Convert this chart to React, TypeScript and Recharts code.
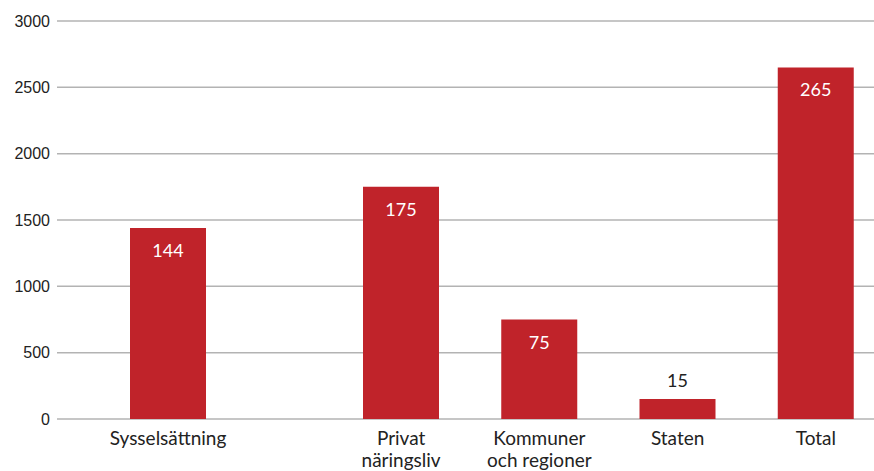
import { BarChart, Bar, XAxis, YAxis, CartesianGrid, LabelList } from 'recharts';

// left group (own slot), right group of four
const leftCategories = ['Sysselsättning'];
const leftValues = [1440];
const leftLabels = ['144'];

const rightCategories = ['Privat\nnäringsliv', 'Kommuner\noch regioner', 'Staten', 'Total'];
const rightValues = [1750, 750, 150, 2650];
const rightLabels = ['175', '75', '15', '265'];

const yTicks = [0, 500, 1000, 1500, 2000, 2500, 3000];

const RED = '#c0232a';
const LABEL_FONT = 'Lato, "Noto Sans", sans-serif';

const leftData = leftCategories.map((name, i) => ({ name, value: leftValues[i], label: leftLabels[i] }));
const rightData = rightCategories.map((name, i) => ({ name, value: rightValues[i], label: rightLabels[i] }));

const CategoryTick = (props: any) => {
  const { x, y, payload } = props;
  const lines = String(payload.value).split('\n');
  return (
    <text x={x} y={y} textAnchor="middle" fill="#222" fontSize={19} fontFamily={LABEL_FONT}>
      {lines.map((line, i) => (
        <tspan key={i} x={x} dy={i === 0 ? 26 : 22}>
          {line}
        </tspan>
      ))}
    </text>
  );
};

const ValueLabel = (props: any) => {
  const { x, y, width, height, value } = props;
  const cx = x + width / 2;
  const small = height < 30;
  return (
    <text
      x={cx}
      y={small ? y - 12 : y + 29}
      textAnchor="middle"
      fill={small ? '#222' : '#fff'}
      fontSize={18}
      fontFamily={LABEL_FONT}
    >
      {value}
    </text>
  );
};

const margin = { top: 21, right: 0, bottom: 0, left: 0 };

export default function App() {
  return (
    <div
      style={{
        position: 'absolute',
        left: 0,
        top: 0,
        width: 874,
        height: 471,
        overflow: 'hidden',
        background: '#fff',
        display: 'flex',
      }}
    >
      <div style={{ flex: 'none', width: 279, height: 471 }}>
        <BarChart width={279} height={471} data={leftData} margin={margin}>
          <CartesianGrid vertical={false} stroke="#b3b3b3" strokeWidth={1.5} />
          <YAxis
            width={57}
            domain={[0, 3000]}
            ticks={yTicks}
            axisLine={false}
            tickLine={false}
            tickSize={0}
            tickMargin={7}
            tick={{ fill: '#222', fontSize: 16, fontFamily: '"Liberation Sans", Arial, sans-serif' }}
          />
          <XAxis
            dataKey="name"
            height={52}
            axisLine={false}
            tickLine={false}
            tickSize={0}
            tickMargin={0}
            interval={0}
            tick={<CategoryTick />}
          />
          <Bar dataKey="value" fill={RED} barSize={76} isAnimationActive={false}>
            <LabelList dataKey="label" content={<ValueLabel />} />
          </Bar>
        </BarChart>
      </div>
      <div style={{ flex: 'none', width: 606, height: 471 }}>
        <BarChart width={606} height={471} data={rightData} margin={margin}>
          <CartesianGrid vertical={false} stroke="#b3b3b3" strokeWidth={1.5} />
          <YAxis hide domain={[0, 3000]} ticks={yTicks} />
          <XAxis
            dataKey="name"
            height={52}
            padding={{ left: 53, right: 0 }}
            axisLine={false}
            tickLine={false}
            tickSize={0}
            tickMargin={0}
            interval={0}
            tick={<CategoryTick />}
          />
          <Bar dataKey="value" fill={RED} barSize={76} isAnimationActive={false}>
            <LabelList dataKey="label" content={<ValueLabel />} />
          </Bar>
        </BarChart>
      </div>
    </div>
  );
}
